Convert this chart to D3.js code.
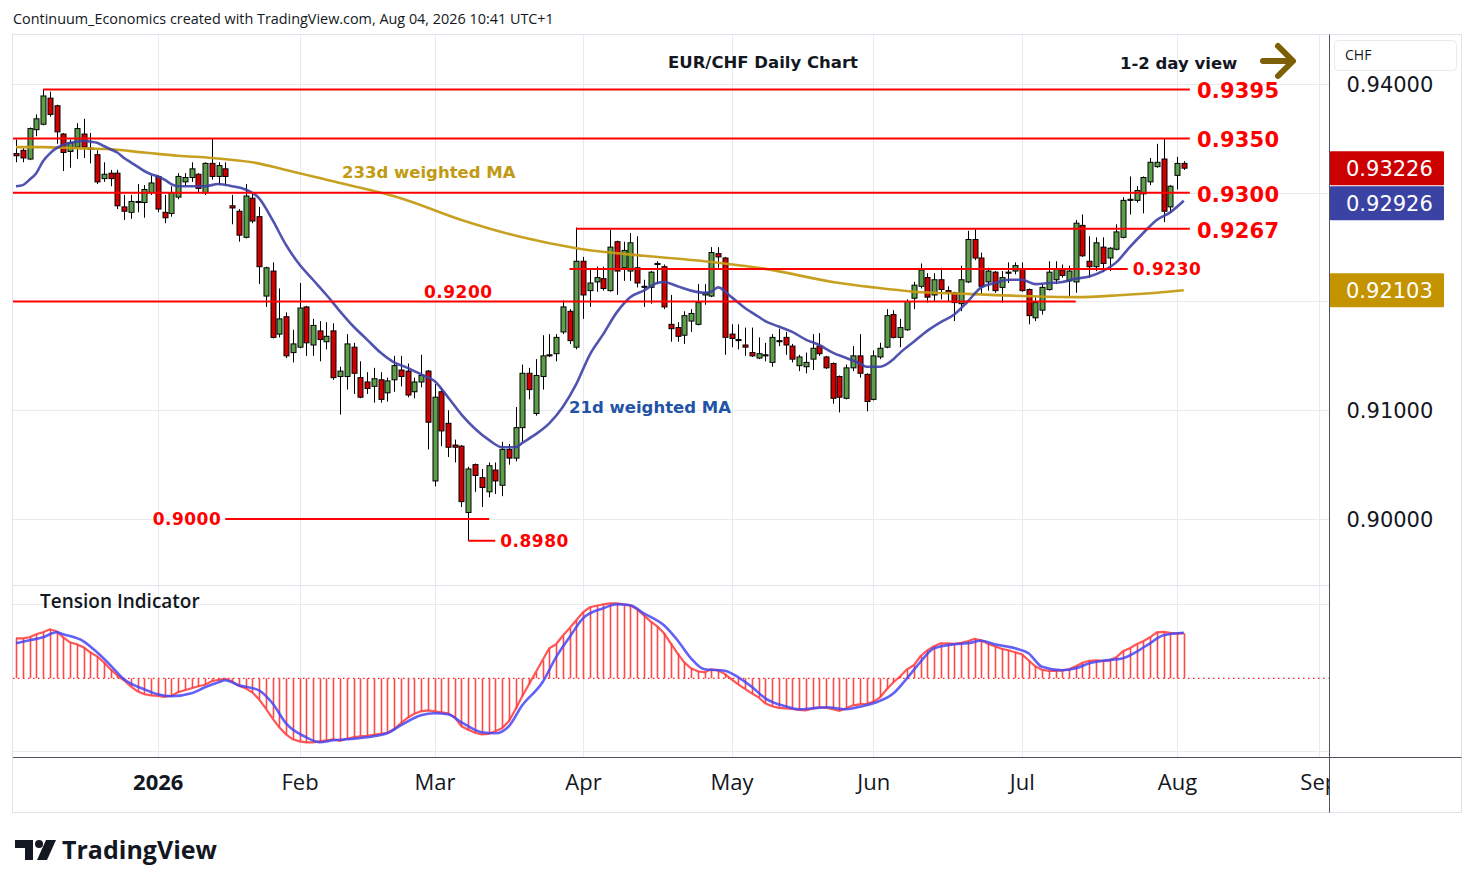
<!DOCTYPE html>
<html>
<head>
<meta charset="utf-8">
<script src="https://cdn.jsdelivr.net/npm/d3@7"></script>
<style>
  body { margin: 0; background: #fff; }
  svg { display: block; }
  text { font-family: "Open Sans", "Noto Sans", sans-serif; fill: #131722; }
  .lvl { font-family: "DejaVu Sans", sans-serif; font-weight: bold; fill: #ff0000; }
  .note { font-family: "DejaVu Sans", sans-serif; font-weight: bold; font-size: 16.5px; }
  .price { font-family: "DejaVu Sans", sans-serif; font-size: 21px; }
</style>
</head>
<body>
<svg id="chart" width="1474" height="887"></svg>
<script>
// trading calendar
var startDate = "2025-12-02";
var axisEnd = "2026-09-30";
var holidays = ["2025-12-25", "2026-01-01"];

// daily candles: [open, high, low, close]
var candles = [
  [0.9336,0.9349,0.9328,0.9334],[0.9339,0.9341,0.9328,0.9332],[0.9331,0.9360,0.9330,0.9359],[0.9358,0.9372,0.9352,0.9368],
  [0.9363,0.9395,0.9362,0.9389],[0.9387,0.9393,0.9370,0.9372],[0.9380,0.9381,0.9345,0.9356],[0.9354,0.9355,0.9320,0.9337],
  [0.9338,0.9349,0.9323,0.9346],[0.9342,0.9364,0.9331,0.9359],[0.9354,0.9368,0.9332,0.9342],[0.9341,0.9355,0.9327,0.9340],
  [0.9335,0.9339,0.9308,0.9310],[0.9313,0.9328,0.9310,0.9317],[0.9318,0.9321,0.9306,0.9313],[0.9318,0.9321,0.9285,0.9288],
  [0.9287,0.9298,0.9275,0.9283],[0.9282,0.9298,0.9276,0.9292],[0.9291,0.9308,0.9282,0.9292],[0.9291,0.9307,0.9277,0.9303],
  [0.9300,0.9316,0.9298,0.9309],[0.9315,0.9316,0.9282,0.9285],[0.9282,0.9298,0.9272,0.9277],[0.9281,0.9306,0.9278,0.9300],
  [0.9296,0.9318,0.9294,0.9315],[0.9310,0.9318,0.9306,0.9314],[0.9314,0.9328,0.9310,0.9322],[0.9317,0.9318,0.9300,0.9304],
  [0.9300,0.9328,0.9298,0.9327],[0.9327,0.9350,0.9312,0.9315],[0.9315,0.9328,0.9307,0.9325],[0.9322,0.9328,0.9306,0.9315],
  [0.9288,0.9298,0.9271,0.9286],[0.9283,0.9285,0.9255,0.9261],[0.9259,0.9308,0.9258,0.9297],[0.9295,0.9300,0.9272,0.9274],
  [0.9278,0.9287,0.9216,0.9232],[0.9205,0.9232,0.9195,0.9231],[0.9228,0.9236,0.9166,0.9167],[0.9170,0.9212,0.9167,0.9184],
  [0.9186,0.9190,0.9148,0.9150],[0.9153,0.9174,0.9144,0.9161],[0.9158,0.9217,0.9157,0.9194],[0.9195,0.9196,0.9150,0.9162],
  [0.9160,0.9184,0.9150,0.9178],[0.9173,0.9182,0.9145,0.9165],[0.9163,0.9181,0.9156,0.9168],[0.9173,0.9180,0.9128,0.9130],
  [0.9131,0.9140,0.9096,0.9136],[0.9131,0.9170,0.9119,0.9161],[0.9158,0.9162,0.9115,0.9134],[0.9130,0.9145,0.9111,0.9112],
  [0.9126,0.9135,0.9115,0.9120],[0.9122,0.9139,0.9107,0.9129],[0.9128,0.9135,0.9107,0.9110],[0.9116,0.9130,0.9108,0.9127],
  [0.9128,0.9150,0.9117,0.9141],[0.9137,0.9150,0.9122,0.9131],[0.9136,0.9143,0.9112,0.9114],[0.9117,0.9130,0.9111,0.9126],
  [0.9126,0.9151,0.9121,0.9132],[0.9136,0.9137,0.9064,0.9089],[0.9035,0.9124,0.9030,0.9112],[0.9117,0.9121,0.9067,0.9081],
  [0.9088,0.9100,0.9057,0.9066],[0.9068,0.9073,0.9052,0.9066],[0.9067,0.9068,0.9011,0.9016],[0.9006,0.9048,0.8980,0.9046],
  [0.9050,0.9051,0.9025,0.9040],[0.9038,0.9046,0.9011,0.9029],[0.9025,0.9052,0.9020,0.9049],[0.9045,0.9052,0.9023,0.9035],
  [0.9031,0.9071,0.9021,0.9064],[0.9064,0.9069,0.9050,0.9056],[0.9056,0.9103,0.9053,0.9084],[0.9084,0.9142,0.9071,0.9134],
  [0.9134,0.9139,0.9110,0.9119],[0.9097,0.9147,0.9095,0.9132],[0.9131,0.9169,0.9119,0.9150],[0.9150,0.9170,0.9149,0.9151],
  [0.9152,0.9170,0.9145,0.9167],[0.9172,0.9201,0.9170,0.9195],[0.9191,0.9193,0.9161,0.9164],[0.9158,0.9268,0.9156,0.9237],
  [0.9237,0.9241,0.9184,0.9206],[0.9210,0.9229,0.9195,0.9217],[0.9218,0.9232,0.9209,0.9222],[0.9221,0.9232,0.9210,0.9212],
  [0.9210,0.9266,0.9209,0.9250],[0.9255,0.9256,0.9206,0.9228],[0.9231,0.9255,0.9219,0.9247],[0.9228,0.9263,0.9219,0.9254],
  [0.9231,0.9260,0.9213,0.9217],[0.9213,0.9220,0.9195,0.9214],[0.9213,0.9228,0.9198,0.9227],[0.9234,0.9237,0.9216,0.9235],
  [0.9232,0.9234,0.9193,0.9195],[0.9179,0.9206,0.9163,0.9175],[0.9176,0.9181,0.9163,0.9168],[0.9169,0.9191,0.9161,0.9187],
  [0.9182,0.9193,0.9172,0.9189],[0.9179,0.9216,0.9178,0.9199],[0.9206,0.9216,0.9197,0.9208],[0.9205,0.9250,0.9204,0.9245],
  [0.9244,0.9250,0.9231,0.9241],[0.9240,0.9241,0.9151,0.9167],[0.9170,0.9179,0.9158,0.9166],[0.9165,0.9179,0.9156,0.9164],
  [0.9160,0.9176,0.9150,0.9158],[0.9153,0.9176,0.9149,0.9150],[0.9148,0.9167,0.9147,0.9152],[0.9150,0.9162,0.9145,0.9151],
  [0.9144,0.9170,0.9140,0.9167],[0.9163,0.9175,0.9159,0.9164],[0.9167,0.9172,0.9151,0.9160],[0.9159,0.9161,0.9144,0.9147],
  [0.9141,0.9151,0.9136,0.9149],[0.9140,0.9153,0.9134,0.9144],[0.9147,0.9170,0.9137,0.9157],[0.9159,0.9171,0.9150,0.9152],
  [0.9149,0.9150,0.9138,0.9139],[0.9143,0.9144,0.9106,0.9111],[0.9131,0.9132,0.9098,0.9112],[0.9111,0.9142,0.9110,0.9139],
  [0.9139,0.9159,0.9136,0.9150],[0.9150,0.9170,0.9130,0.9134],[0.9133,0.9134,0.9099,0.9108],[0.9110,0.9155,0.9109,0.9150],
  [0.9149,0.9162,0.9147,0.9157],[0.9158,0.9193,0.9157,0.9187],[0.9188,0.9192,0.9166,0.9167],[0.9167,0.9184,0.9158,0.9176],
  [0.9174,0.9202,0.9173,0.9200],[0.9203,0.9218,0.9193,0.9215],[0.9214,0.9235,0.9212,0.9229],[0.9222,0.9226,0.9199,0.9204],
  [0.9206,0.9226,0.9200,0.9220],[0.9220,0.9231,0.9202,0.9211],[0.9210,0.9214,0.9200,0.9208],[0.9208,0.9209,0.9182,0.9199],
  [0.9198,0.9233,0.9191,0.9220],[0.9218,0.9265,0.9217,0.9257],[0.9257,0.9267,0.9238,0.9240],[0.9240,0.9245,0.9207,0.9214],
  [0.9218,0.9231,0.9210,0.9228],[0.9227,0.9228,0.9208,0.9210],[0.9213,0.9228,0.9199,0.9222],[0.9226,0.9236,0.9217,0.9227],
  [0.9228,0.9236,0.9225,0.9233],[0.9230,0.9236,0.9209,0.9210],[0.9211,0.9212,0.9179,0.9187],[0.9185,0.9204,0.9182,0.9199],
  [0.9192,0.9216,0.9188,0.9213],[0.9211,0.9237,0.9210,0.9227],[0.9220,0.9237,0.9216,0.9230],[0.9229,0.9234,0.9222,0.9224],
  [0.9219,0.9233,0.9205,0.9228],[0.9218,0.9275,0.9208,0.9272],[0.9270,0.9280,0.9241,0.9242],[0.9237,0.9260,0.9222,0.9232],
  [0.9232,0.9259,0.9228,0.9254],[0.9250,0.9259,0.9227,0.9235],[0.9240,0.9250,0.9228,0.9249],[0.9248,0.9271,0.9247,0.9264],
  [0.9259,0.9296,0.9258,0.9293],[0.9293,0.9315,0.9280,0.9294],[0.9293,0.9306,0.9291,0.9302],[0.9299,0.9315,0.9281,0.9314],
  [0.9310,0.9332,0.9307,0.9328],[0.9324,0.9345,0.9323,0.9328],[0.9331,0.9350,0.9273,0.9283],[0.9287,0.9307,0.9282,0.9306],
  [0.9316,0.9333,0.9303,0.9327],[0.9327,0.9329,0.9321,0.93226]
];

// 21d weighted MA: [bar, value]
var ma21 = [
  [0,0.9306],[1,0.9307],[2,0.9312],[3,0.9318],[4,0.9329],[5,0.9336],[6,0.9341],[7,0.9344],[8,0.9346],[9,0.9347],
  [10,0.9348],[11,0.9347],[12,0.9346],[13,0.9343],[14,0.9340],[15,0.9337],[16,0.9332],[17,0.9328],[18,0.9324],
  [19,0.9320],[20,0.9317],[21,0.9315],[22,0.9312],[23,0.9308],[24,0.9306],[26,0.9306],[28,0.9306],[30,0.9308],
  [32,0.9306],[34,0.9303],[36,0.9295],[38,0.9275],[40,0.9252],[42,0.9234],[44,0.9220],[46,0.9206],[48,0.9191],
  [50,0.9177],[52,0.9165],[54,0.9153],[56,0.9144],[58,0.9139],[60,0.9133],[62,0.9127],[64,0.9112],[66,0.9096],
  [68,0.9083],[70,0.9073],[72,0.9066],[74,0.9066],[75,0.9070],[77,0.9078],[79,0.9088],[81,0.9103],[83,0.9124],
  [85,0.9151],[87,0.9170],[89,0.9190],[91,0.9204],[93,0.9210],[95,0.9217],[96,0.9218],[98,0.9214],[100,0.9210],
  [102,0.9208],[103,0.9209],[104,0.9213],[106,0.9204],[108,0.9194],[110,0.9186],[111,0.9182],[113,0.9177],
  [115,0.9172],[117,0.9165],[119,0.9160],[121,0.9153],[123,0.9148],[125,0.9143],[126,0.9140],[128,0.9140],
  [130,0.9147],[131,0.9153],[133,0.9163],[135,0.9173],[137,0.9181],[139,0.9188],[141,0.9200],[143,0.9213],
  [145,0.9217],[147,0.9220],[149,0.9220],[151,0.9216],[153,0.9217],[155,0.9218],[157,0.9221],[159,0.9223],
  [161,0.9228],[163,0.9236],[165,0.9250],[167,0.9263],[169,0.9275],[171,0.9282],[173,0.92926]
];

// 233d weighted MA: [bar, value]
var ma233 = [
  [0,0.9342],[4,0.9342],[9,0.9341],[14,0.9340],[19,0.9337],[24,0.9334],[29,0.9332],[35,0.9328],[40,0.9321],
  [48,0.9309],[57,0.9295],[66,0.9275],[75,0.9259],[83,0.9249],[93,0.9242],[102,0.9237],[111,0.9230],[121,0.9218],
  [127,0.9213],[133,0.9209],[141,0.9207],[149,0.9205],[157,0.9204],[164,0.9206],[169,0.9208],[173,0.92103]
];

// tension indicator, one value per bar
var tension = [
  4.0,4.0,4.1,4.4,4.6,4.9,4.7,4.1,3.6,3.4,
  3.1,2.6,2.2,1.6,0.9,0.3,-0.2,-0.8,-1.3,-1.6,
  -1.7,-1.75,-1.85,-1.75,-1.4,-1.2,-1.0,-0.8,-0.65,-0.3,
  -0.15,-0.05,-0.3,-0.75,-1.0,-1.4,-2.1,-3.0,-4.0,-4.9,
  -5.6,-6.1,-6.3,-6.4,-6.4,-6.3,-6.2,-6.1,-6.25,-6.05,
  -5.9,-5.8,-5.75,-5.65,-5.55,-5.45,-5.1,-4.5,-3.95,-3.55,
  -3.3,-3.2,-3.3,-3.4,-3.5,-3.9,-4.8,-5.15,-5.45,-5.6,
  -5.55,-5.3,-5.0,-4.3,-3.1,-1.8,-0.6,0.6,1.8,3.0,
  3.4,4.25,5.0,5.8,6.6,7.1,7.25,7.4,7.5,7.5,
  7.4,7.3,6.9,6.3,5.7,5.2,4.5,3.5,2.5,1.6,
  1.0,0.7,0.6,0.9,0.8,0.45,-0.1,-0.6,-1.05,-1.5,
  -1.9,-2.5,-2.8,-2.95,-3.0,-3.05,-3.15,-3.2,-3.05,-2.9,
  -2.95,-3.1,-3.25,-3.0,-2.7,-2.6,-2.55,-2.35,-1.9,-1.1,
  -0.4,0.2,0.9,1.3,2.2,2.8,3.2,3.5,3.5,3.45,
  3.55,3.7,3.95,3.8,3.45,3.2,2.95,2.8,2.6,2.4,
  1.8,1.2,0.85,0.75,0.75,0.8,0.9,1.2,1.55,1.75,
  1.8,1.75,1.8,2.1,2.7,3.0,3.4,3.7,4.1,4.6,
  4.65,4.55,4.5,4.5
];

// tension signal line: [bar, value]
var signal = [
  [0,3.5],[2,3.8],[4,4.1],[6,4.6],[7,4.4],[10,3.7],[12,2.6],[14,1.3],[16,-0.1],[19,-1.1],[21,-1.6],
  [23,-1.8],[26,-1.5],[28,-0.9],[30,-0.4],[31,-0.2],[33,-0.7],[36,-1.2],[38,-2.5],[40,-4.5],[43,-5.9],
  [45,-6.4],[47,-6.2],[49,-6.1],[53,-5.8],[55,-5.5],[57,-4.7],[60,-3.7],[62,-3.5],[64,-3.6],[66,-4.4],
  [69,-5.4],[71,-5.5],[73,-4.8],[75,-2.7],[78,-0.4],[80,2.1],[82,4.1],[84,6.0],[87,7.0],[89,7.4],
  [91,7.3],[93,6.5],[96,5.3],[98,3.8],[100,2.0],[102,0.9],[105,0.75],[107,0.1],[109,-0.85],[111,-2.0],
  [114,-2.8],[116,-3.1],[118,-3.0],[120,-2.9],[123,-3.1],[125,-2.85],[127,-2.5],[130,-1.5],[132,0],
  [134,1.65],[136,3.0],[139,3.4],[141,3.5],[143,3.75],[145,3.4],[148,3.0],[150,2.5],[152,1.15],
  [155,0.8],[157,1.0],[159,1.5],[161,1.75],[164,2.0],[166,2.65],[168,3.5],[170,4.3],[173,4.55]
];

var levelPrices = [0.9395, 0.9350, 0.9300, 0.9267, 0.9230, 0.9200, 0.9000, 0.8980];
var priceTicks = [0.90, 0.91, 0.92, 0.93, 0.94];

var params = {
  "svg": { "width": 1474, "height": 887 },
  "frame": { "left": 12.5, "right": 1461.5, "top": 34.5, "bottom": 812.5 },
  "plot": { "left": 13, "right": 1329.5 },
  "main": { "top": 34.5, "bottom": 585.5 },
  "osc": { "top": 585.5, "bottom": 757.5 },
  "bar": 6.75,
  "firstBarX": 16
};

var parseDate = d3.timeParse("%Y-%m-%d");
var fmtDate = d3.timeFormat("%Y-%m-%d");

var days = d3.timeDay.range(parseDate(startDate), d3.timeDay.offset(parseDate(axisEnd), 1))
  .filter(function(d) {
    let wd = d.getDay();
    return wd !== 0 && wd !== 6 && holidays.indexOf(fmtDate(d)) < 0;
  });

var monthTicks = [];
days.forEach(function(d, i) {
  if (i > 0 && d.getMonth() !== days[i - 1].getMonth()) monthTicks.push(i);
});

var last = candles.length - 1;
var scale = {
  "x": d3.scaleLinear().domain([0, last]).range([params.firstBarX, params.firstBarX + last * params.bar]),
  "y": d3.scaleLinear().domain([0.90, 0.94]).range([519, 84]),
  "osc": d3.scaleLinear().domain([-7, 8]).range([748.3, 598.3])
};
var x = scale.x, y = scale.y, yo = scale.osc;

var svg = d3.select("#chart");
var defs = svg.append("defs");
defs.append("clipPath").attr("id", "clip-main").append("rect")
  .attr("x", params.plot.left).attr("y", params.main.top)
  .attr("width", params.plot.right - params.plot.left).attr("height", params.main.bottom - params.main.top);
defs.append("clipPath").attr("id", "clip-osc").append("rect")
  .attr("x", params.plot.left).attr("y", params.osc.top)
  .attr("width", params.plot.right - params.plot.left).attr("height", params.osc.bottom - params.osc.top);
defs.append("clipPath").attr("id", "clip-time").append("rect")
  .attr("x", 0).attr("y", params.osc.bottom)
  .attr("width", params.plot.right).attr("height", 60);

svg.append("rect").attr("width", params.svg.width).attr("height", params.svg.height).attr("fill", "#fff");

// header
svg.append("text")
  .attr("x", 13).attr("y", 24)
  .style("font-size", "14.4px")
  .text("Continuum_Economics created with TradingView.com, Aug 04, 2026 10:41 UTC+1");

// grid
var grid = svg.append("g").attr("stroke", "#e6ebf1").attr("stroke-width", 1);
grid.selectAll("line.h")
  .data(priceTicks)
  .enter().append("line")
  .attr("x1", params.plot.left).attr("x2", params.plot.right)
  .attr("y1", function(d) { return Math.round(y(d)) + 0.5; })
  .attr("y2", function(d) { return Math.round(y(d)) + 0.5; });
grid.selectAll("line.v")
  .data(monthTicks)
  .enter().append("line")
  .attr("x1", function(d) { return Math.round(x(d)) + 0.5; })
  .attr("x2", function(d) { return Math.round(x(d)) + 0.5; })
  .attr("y1", params.main.top).attr("y2", params.osc.bottom);
grid.append("line").attr("x1", params.plot.left).attr("x2", params.plot.right).attr("y1", 604.5).attr("y2", 604.5);
grid.append("line").attr("x1", params.plot.left).attr("x2", params.plot.right).attr("y1", 751.5).attr("y2", 751.5);

// frame and pane separator
svg.append("rect")
  .attr("x", params.frame.left).attr("y", params.frame.top)
  .attr("width", params.frame.right - params.frame.left)
  .attr("height", params.frame.bottom - params.frame.top)
  .attr("fill", "none").attr("stroke", "#e0e3eb");
svg.append("line")
  .attr("x1", params.plot.left).attr("x2", params.plot.right)
  .attr("y1", params.main.bottom).attr("y2", params.main.bottom)
  .attr("stroke", "#e0e3eb");

// ---------- main pane ----------
var main = svg.append("g").attr("clip-path", "url(#clip-main)");

// candles
var bars = main.selectAll("g.candle")
  .data(candles)
  .enter().append("g")
  .attr("class", "candle");

bars.append("line")
  .attr("x1", function(d, i) { return Math.round(x(i)) + 0.5; })
  .attr("x2", function(d, i) { return Math.round(x(i)) + 0.5; })
  .attr("y1", function(d) { return y(d[1]); })
  .attr("y2", function(d) { return y(d[2]); })
  .attr("stroke", "#000").attr("stroke-width", 1);

bars.append("rect")
  .attr("x", function(d, i) { return Math.round(x(i)) - 2; })
  .attr("width", 5)
  .attr("y", function(d) { return Math.min(y(d[0]), y(d[3])); })
  .attr("height", function(d) { return Math.max(1, Math.abs(y(d[0]) - y(d[3]))); })
  .attr("fill", function(d) { return d[3] >= d[0] ? "#5c9e49" : "#d10000"; })
  .attr("stroke", "#000").attr("stroke-width", 1);

// moving averages
var maLine = d3.line()
  .x(function(d) { return x(d[0]); })
  .y(function(d) { return y(d[1]); })
  .curve(d3.curveMonotoneX);

main.append("path").datum(ma233)
  .attr("d", maLine).attr("fill", "none")
  .attr("stroke", "#c49b14").attr("stroke-width", 2.6).attr("stroke-opacity", 0.95);
main.append("path").datum(ma21)
  .attr("d", maLine).attr("fill", "none")
  .attr("stroke", "#3d40a6").attr("stroke-width", 2.6).attr("stroke-opacity", 0.9);

// support / resistance levels
var END = 173.9;
var levelDraw = [
  { "p": levelPrices[0], "from": 4, "to": END, "label": "big" },
  { "p": levelPrices[1], "from": -1, "to": END, "label": "big" },
  { "p": levelPrices[2], "from": -1, "to": END, "label": "big" },
  { "p": levelPrices[3], "from": 83, "to": END, "label": "big" },
  { "p": levelPrices[4], "from": 82, "to": 164.7, "label": "right" },
  { "p": levelPrices[5], "from": -1, "to": 157, "label": "above" },
  { "p": levelPrices[6], "from": 31, "to": 70.1, "label": "left" },
  { "p": levelPrices[7], "from": 67, "to": 71, "label": "right" }
];

var levels = svg.append("g");
levels.selectAll("line")
  .data(levelDraw)
  .enter().append("line")
  .attr("x1", function(d) { return Math.max(params.plot.left, x(d.from)); })
  .attr("x2", function(d) { return x(d.to); })
  .attr("y1", function(d) { return y(d.p); })
  .attr("y2", function(d) { return y(d.p); })
  .attr("stroke", "#ff0000").attr("stroke-width", 2);

levels.selectAll("text")
  .data(levelDraw)
  .enter().append("text")
  .attr("class", "lvl")
  .attr("x", function(d) {
    if (d.label === "big") return 1197;
    if (d.label === "right") return x(d.to) + 5;
    if (d.label === "left") return x(d.from) - 4;
    return 424;
  })
  .attr("y", function(d) {
    if (d.label === "above") return y(d.p) - 4;
    return d.label === "big" ? y(d.p) + 3 : y(d.p) + 1;
  })
  .attr("dominant-baseline", function(d) { return d.label === "above" ? "auto" : "middle"; })
  .attr("text-anchor", function(d) { return d.label === "left" ? "end" : "start"; })
  .style("font-size", function(d) { return d.label === "big" ? "21px" : "17px"; })
  .style("letter-spacing", function(d) { return d.label === "big" ? "0.2px" : "0.5px"; })
  .text(function(d) { return d.p.toFixed(4); });

// annotations
svg.append("text").attr("class", "note")
  .attr("x", 668).attr("y", 68).text("EUR/CHF Daily Chart");
svg.append("text").attr("class", "note")
  .attr("x", 1120).attr("y", 69).text("1-2 day view");
svg.append("text").attr("class", "note")
  .attr("x", 342).attr("y", 178).style("fill", "#c19a12").text("233d weighted MA");
svg.append("text").attr("class", "note")
  .attr("x", 569).attr("y", 413).style("fill", "#2353a6").text("21d weighted MA");

var arrow = svg.append("g")
  .attr("stroke", "#7d5f05").attr("stroke-width", 6)
  .attr("stroke-linecap", "round").attr("stroke-linejoin", "round").attr("fill", "none");
arrow.append("line").attr("x1", 1263).attr("y1", 61).attr("x2", 1292).attr("y2", 61);
arrow.append("polyline").attr("points", "1278,46 1293,61 1278,76");

// ---------- tension pane ----------
var osc = svg.append("g").attr("clip-path", "url(#clip-osc)");

osc.append("line")
  .attr("x1", params.plot.left).attr("x2", params.plot.right - 1)
  .attr("y1", yo(0)).attr("y2", yo(0))
  .attr("stroke", "#ff2020").attr("stroke-width", 1.2)
  .attr("stroke-dasharray", "1.5,3.5");

osc.selectAll("line.hist")
  .data(tension)
  .enter().append("line")
  .attr("class", "hist")
  .attr("x1", function(d, i) { return Math.round(x(i)) + 0.5; })
  .attr("x2", function(d, i) { return Math.round(x(i)) + 0.5; })
  .attr("y1", yo(0))
  .attr("y2", function(d) { return yo(d); })
  .attr("stroke", "#ff4a4a").attr("stroke-width", 1.6);

osc.append("path").datum(tension)
  .attr("d", d3.line().x(function(d, i) { return x(i); }).y(function(d) { return yo(d); }))
  .attr("fill", "none").attr("stroke", "#ff3a3a").attr("stroke-width", 2.2).attr("stroke-opacity", 0.85);

osc.append("path").datum(signal)
  .attr("d", d3.line().x(function(d) { return x(d[0]); }).y(function(d) { return yo(d[1]); }).curve(d3.curveMonotoneX))
  .attr("fill", "none").attr("stroke", "#4646f5").attr("stroke-width", 2.6).attr("stroke-opacity", 0.85);

svg.append("text")
  .attr("x", 40).attr("y", 608)
  .style("font-size", "19px").style("font-weight", 600)
  .text("Tension Indicator");

// ---------- price axis ----------
svg.append("line")
  .attr("x1", params.plot.right).attr("x2", params.plot.right)
  .attr("y1", params.frame.top).attr("y2", params.frame.bottom)
  .attr("stroke", "#50535e");

// last-value boxes, stacked so they do not overlap
var tags = [
  { "v": candles[last][3], "color": "#cc0000" },
  { "v": ma21[ma21.length - 1][1], "color": "#3a43a4" },
  { "v": ma233[ma233.length - 1][1], "color": "#c39400" }
];
var prevBottom = -Infinity;
tags.forEach(function(t) {
  let top = y(t.v) - 17;
  if (top < prevBottom + 1) top = prevBottom + 1;
  prevBottom = top + 34;
  t.top = top;
});

// axis labels hidden behind a value box are left out, as on the platform
var visibleTicks = priceTicks.filter(function(p) {
  return !tags.some(function(t) { return y(p) > t.top - 4 && y(p) < t.top + 30; });
});

var yAxis = svg.append("g")
  .attr("transform", "translate(" + params.plot.right + ",0)")
  .call(d3.axisRight(y).tickValues(visibleTicks).tickSize(0).tickPadding(17).tickFormat(d3.format(".5f")));
yAxis.select(".domain").remove();
yAxis.selectAll("text")
  .attr("class", "price")
  .attr("dy", "0.36em")
  .attr("fill", "#131722");

var chf = svg.append("g");
chf.append("rect")
  .attr("x", 1334.5).attr("y", 40.5).attr("width", 122).attr("height", 30).attr("rx", 4)
  .attr("fill", "#fff").attr("stroke", "#e8eaef");
chf.append("text")
  .attr("x", 1345).attr("y", 60).style("font-size", "14px").text("CHF");

var tagG = svg.selectAll("g.tag")
  .data(tags)
  .enter().append("g").attr("class", "tag");
tagG.append("rect")
  .attr("x", params.plot.right + 0.5).attr("y", function(d) { return d.top; })
  .attr("width", 114).attr("height", 34).attr("rx", 1)
  .attr("fill", function(d) { return d.color; });
tagG.append("text")
  .attr("class", "price")
  .attr("x", 1346).attr("y", function(d) { return d.top + 17; })
  .attr("dy", "0.36em")
  .style("fill", "#fff")
  .text(function(d) { return d.v.toFixed(5); });

// ---------- time axis ----------
svg.append("line")
  .attr("x1", params.plot.left).attr("x2", params.frame.right)
  .attr("y1", params.osc.bottom).attr("y2", params.osc.bottom)
  .attr("stroke", "#50535e");

var xAxis = svg.append("g")
  .attr("clip-path", "url(#clip-time)")
  .append("g")
  .attr("transform", "translate(0," + params.osc.bottom + ")")
  .call(d3.axisBottom(x).tickValues(monthTicks).tickSize(0).tickPadding(17)
    .tickFormat(function(i) {
      let d = days[i];
      return d.getMonth() === 0 ? d.getFullYear() : d3.timeFormat("%b")(d);
    }));
xAxis.select(".domain").remove();
xAxis.selectAll("text")
  .style("font-family", "'Open Sans', sans-serif")
  .style("font-size", "22px")
  .style("font-weight", function(i) { return days[i].getMonth() === 0 ? "bold" : "normal"; })
  .attr("fill", "#131722");

// ---------- logo ----------
var logo = svg.append("g").attr("fill", "#131722");
logo.append("path").attr("d", "M15,840 H33 V860 H25 V848 H15 Z");
logo.append("circle").attr("cx", 39).attr("cy", 844).attr("r", 4);
logo.append("path").attr("d", "M46,840 H56 L47,860 H37 Z");
logo.append("text")
  .attr("x", 62).attr("y", 859)
  .style("font-size", "25px").style("font-weight", "bold")
  .text("TradingView");
</script>
</body>
</html>
